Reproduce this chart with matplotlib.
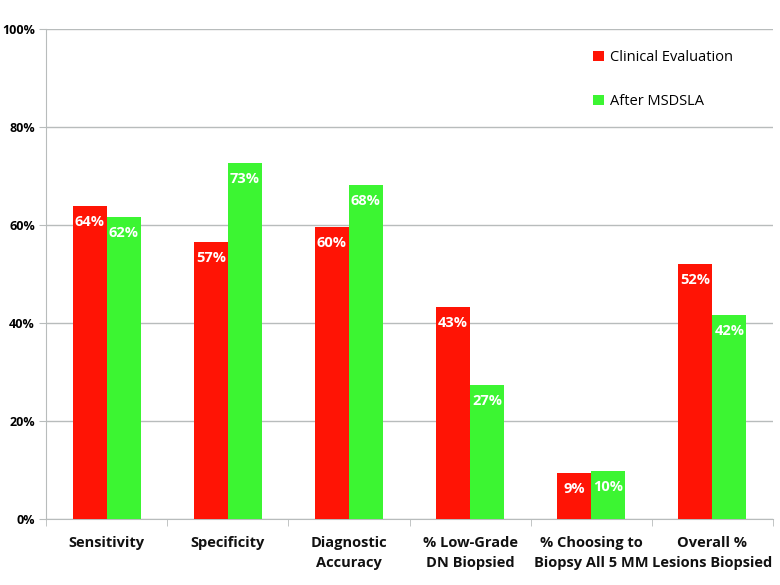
import numpy as np
import matplotlib.pyplot as plt
from matplotlib.ticker import PercentFormatter

categories = ['Sensitivity', 'Specificity', 'Diagnostic\nAccuracy',
              '% Low-Grade\nDN Biopsied', '% Choosing to\nBiopsy All 5 MM',
              'Overall %\nLesions Biopsied']
clinical = [63.9, 56.6, 59.7, 43.3, 9.4, 52.0]
msdsla = [61.7, 72.7, 68.1, 27.3, 9.8, 41.7]
clinical_labels = ['64%', '57%', '60%', '43%', '9%', '52%']
msdsla_labels = ['62%', '73%', '68%', '27%', '10%', '42%']

plt.rcParams['font.family'] = ['Open Sans', 'DejaVu Sans']

fig = plt.figure(figsize=(7.8, 5.85), dpi=100)
ax = fig.add_axes([0.059, 0.113, 0.932, 0.837])

x = np.arange(len(categories))
w = 0.28
red = '#ff1405'
green = '#3cf532'
b1 = ax.bar(x - w / 2, clinical, w, color=red, label='Clinical Evaluation', zorder=3)
b2 = ax.bar(x + w / 2, msdsla, w, color=green, label='After MSDSLA', zorder=3)

for bars, labels in ((b1, clinical_labels), (b2, msdsla_labels)):
    for bar, lab in zip(bars, labels):
        ax.annotate(lab, (bar.get_x() + bar.get_width() / 2, bar.get_height()),
                    xytext=(0, -6.5), textcoords='offset points', ha='center', va='top',
                    color='white', fontweight='bold', fontsize=10.5, zorder=4)

ax.set_xlim(-0.5, len(categories) - 0.5)
ax.set_ylim(0, 100)
ax.set_yticks(np.arange(0, 101, 20))
ax.yaxis.set_major_formatter(PercentFormatter(decimals=0))
ax.grid(axis='y', color='#b8bcbc', linewidth=1, zorder=0)

ax.set_xticks(x)
ax.set_xticklabels(categories, fontweight='bold', fontsize=10.5, color='#111111',
                   linespacing=1.55)
ax.set_xticks(np.arange(-0.5, len(categories), 1), minor=True)
ax.tick_params(axis='x', which='major', length=0, pad=12)
ax.tick_params(axis='x', which='minor', length=5, color='#b8bcbc')
ax.tick_params(axis='y', length=5, color='#b8bcbc', labelsize=9, pad=3)
for lab in ax.get_yticklabels():
    lab.set_fontweight('bold')

for s in ('top', 'right'):
    ax.spines[s].set_visible(False)
for s in ('left', 'bottom'):
    ax.spines[s].set_color('#b8bcbc')

ax.legend(loc='upper left', bbox_to_anchor=(0.735, 0.985), frameon=False,
          fontsize=10.5, handlelength=0.7, handleheight=0.7, handletextpad=0.4,
          labelspacing=2.0)

fig.savefig('out.png', dpi=100)
